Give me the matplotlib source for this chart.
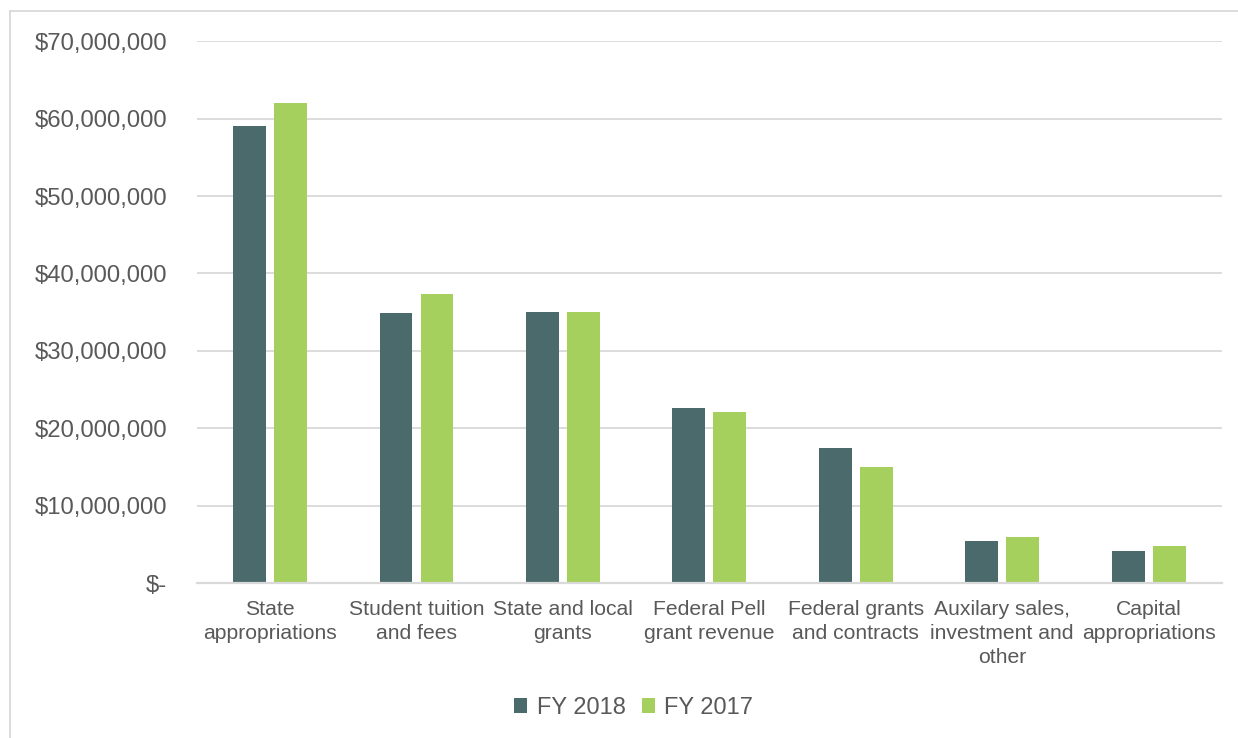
import numpy as np
import matplotlib.pyplot as plt
from matplotlib.lines import Line2D
from matplotlib.ticker import FuncFormatter

plt.rcParams['font.family'] = ['Liberation Sans', 'DejaVu Sans']

categories = ['State\nappropriations', 'Student tuition\nand fees', 'State and local\ngrants',
              'Federal Pell\ngrant revenue', 'Federal grants\nand contracts',
              'Auxilary sales,\ninvestment and\nother', 'Capital\nappropriations']
fy2018 = [59.0e6, 34.9e6, 35.0e6, 22.6e6, 17.4e6, 5.4e6, 4.1e6]
fy2017 = [62.0e6, 37.3e6, 35.0e6, 22.1e6, 15.0e6, 5.9e6, 4.8e6]

text_color = '#595959'
grid_color = '#d9d9d9'

fig = plt.figure(figsize=(12.38, 7.38), dpi=100)
ax = fig.add_axes([0.159, 0.21, 0.828, 0.734])

x = np.arange(len(categories))
w = 0.225
ax.bar(x - 0.14, fy2018, w, color='#4a6a6b', label='FY 2018', zorder=3)
ax.bar(x + 0.14, fy2017, w, color='#a6d05e', label='FY 2017', zorder=3)

ax.set_xlim(-0.5, len(categories) - 0.5)
ax.set_ylim(0, 70e6)
ax.set_yticks(np.arange(0, 70e6 + 1, 10e6))
ax.yaxis.set_major_formatter(FuncFormatter(lambda v, _: '$-' if v == 0 else f'${v:,.0f}'))
ax.set_xticks(x)
ax.set_xticklabels(categories, linespacing=1.36)

ax.grid(axis='y', color=grid_color, linewidth=1.3, zorder=0)
for s in ['top', 'right', 'left']:
    ax.spines[s].set_visible(False)
ax.spines['bottom'].set_color(grid_color)
ax.spines['bottom'].set_linewidth(1.6)
ax.spines['bottom'].set_zorder(4)
ax.tick_params(axis='both', length=0, labelcolor=text_color)
ax.tick_params(axis='y', pad=21.5, labelsize=17.2)
ax.tick_params(axis='x', pad=12, labelsize=15.2)

fig.legend(loc='center', bbox_to_anchor=(0.512, 0.041), ncol=2, frameon=False,
           fontsize=17, labelcolor=text_color, handlelength=0.55, handleheight=0.55,
           handletextpad=0.4, columnspacing=0.7)

# chart area border (left and top edges visible)
fig.add_artist(Line2D([10 / 1238, 1.0], [1 - 11 / 738, 1 - 11 / 738], transform=fig.transFigure,
                      color=grid_color, linewidth=1.3))
fig.add_artist(Line2D([10 / 1238, 10 / 1238], [0.0, 1 - 11 / 738], transform=fig.transFigure,
                      color=grid_color, linewidth=1.3))

fig.savefig('out.png', dpi=100)
